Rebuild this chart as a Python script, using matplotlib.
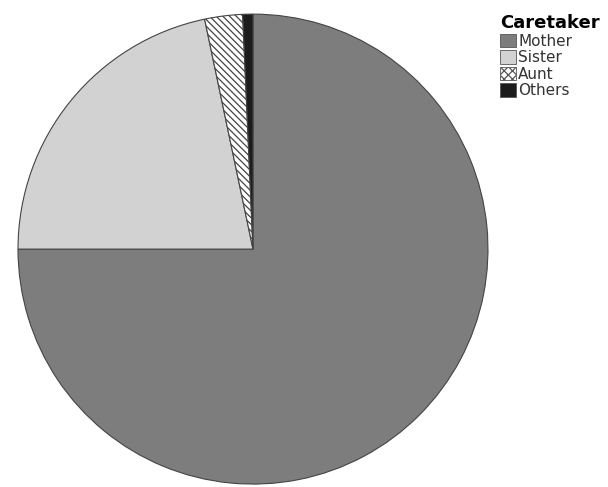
import matplotlib.pyplot as plt
from matplotlib.patches import Patch

labels = ["Mother", "Sister", "Aunt", "Others"]
shares = [75.0, 21.7, 2.6, 0.7]
colors = ["#7d7d7d", "#d2d2d2", "#ffffff", "#1c1c1c"]
hatches = ["", "", "\\\\\\\\\\", ""]

fig = plt.figure(figsize=(6.08, 4.87), dpi=100)
ax = fig.add_axes([0.0296, 0.006, 0.773, 0.965])

plt.rcParams["hatch.color"] = "#333333"
plt.rcParams["hatch.linewidth"] = 0.9
wedges, _ = ax.pie(shares, colors=colors, startangle=90, counterclock=False,
                   wedgeprops=dict(edgecolor="#444444", linewidth=0.8))
for w, h in zip(wedges, hatches):
    w.set_hatch(h)
ax.set_aspect("equal")
ax.set_xlim(-1, 1)
ax.set_ylim(-1, 1)

# legend drawn separately in the top-right corner
handles = [Patch(facecolor=c, edgecolor="#555555", hatch=h, linewidth=0.6)
           for c, h in zip(colors, ["", "", "xxxx", ""])]
leg = fig.legend(handles, labels, title="Caretaker", loc="upper left",
                 bbox_to_anchor=(0.808, 0.99), frameon=False, fontsize=11,
                 handlelength=1.0, handleheight=1.0, handletextpad=0.15,
                 labelspacing=0.1, borderaxespad=0.2)
leg.get_title().set_fontweight("bold")
leg.get_title().set_fontsize(13)
for t in leg.get_texts():
    t.set_color("#333333")
leg._legend_box.align = "left"

fig.savefig("out.png", dpi=100)
